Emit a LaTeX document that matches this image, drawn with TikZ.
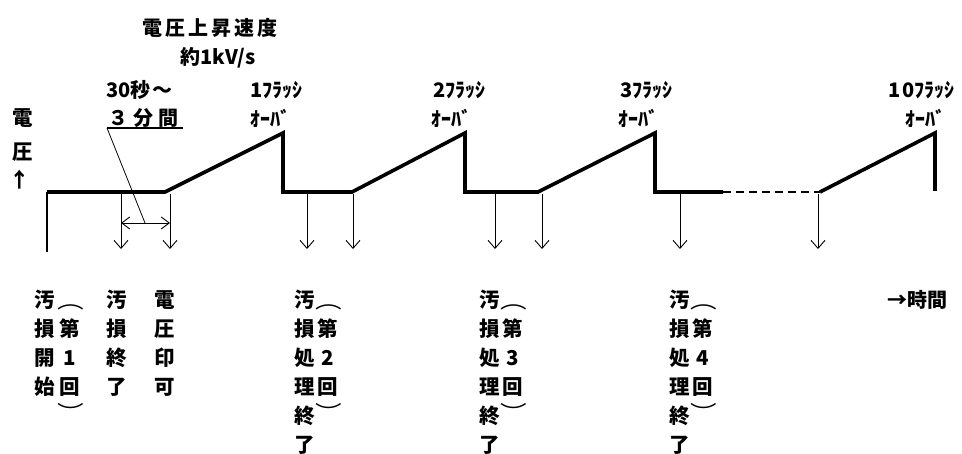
\documentclass[tikz,border=0pt]{standalone}
\usepackage{fontspec}
\usepackage{graphicx}
\setmainfont{Noto Sans CJK JP}
\usetikzlibrary{arrows.meta}
\newcommand\trk[1]{\def\trkamt{#1}\trkloop}
\def\trkloop#1{\ifx#1\relax\else#1\kern\trkamt\expandafter\trkloop\fi}
\newcommand\wideparen[1]{\scalebox{1.3}[1]{#1}}
\begin{document}
\begin{tikzpicture}[x=1pt,y=-1pt,
  wave/.style={line width=3.6pt, line join=miter, line cap=butt},
  dashline/.style={line width=2pt, dash pattern=on 8pt off 5pt},
  thinline/.style={line width=1.1pt},
  darr/.style={line width=0.9pt, -{Straight Barb[length=8pt,width=14pt]}},
  dimarr/.style={line width=0.9pt, {Straight Barb[length=8pt,width=12pt]}-{Straight Barb[length=8pt,width=12pt]}},
  lab/.style={inner sep=0pt, font=\fontsize{20.5}{20}\selectfont\bfseries},
  paren/.style={inner sep=0pt, font=\fontsize{20.5}{20}\selectfont},
  top/.style={inner sep=0pt, anchor=west, font=\fontsize{20}{20}\selectfont\bfseries},
  kana/.style={inner sep=0pt, anchor=west, font=\fontsize{20}{20}\selectfont\bfseries}]
\useasboundingbox[fill=white] (0,0) rectangle (962,454);
% waveform points
\coordinate (w0) at (47,192);
\coordinate (l0) at (47,252);
\coordinate (w1) at (165,192);
\coordinate (p1) at (283,133);
\coordinate (d1) at (283,192);
\coordinate (w2) at (352,192);
\coordinate (p2) at (465,133);
\coordinate (d2) at (465,192);
\coordinate (w3) at (538,192);
\coordinate (p3) at (655,133);
\coordinate (d3) at (655,192);
\coordinate (e3) at (723,192);
\coordinate (s10) at (820,192);
\coordinate (p10) at (935,133);
\coordinate (d10) at (935,191);
\draw[wave] (w0) -- (w1) -- (p1) -- (d1) -- (w2) -- (p2) -- (d2) -- (w3) -- (p3) -- (d3) -- (e3);
\draw[dashline] (e3) -- (s10);
\draw[wave] (s10) -- (p10) -- (d10);
\draw[thinline] (w0) -- (l0);
% down arrows
\foreach \xx [count=\k] in {121,170,307,353,495,542,680,818}{
  \coordinate (at\k) at (\xx,194);
  \coordinate (ab\k) at (\xx,249);
  \draw[darr] (at\k) -- (ab\k);
}
% dimension 30s-3min
\coordinate (m1) at (121,223);
\coordinate (m2) at (170,223);
\draw[dimarr] (m1) -- (m2);
\coordinate (u1) at (107,128);
\coordinate (u2) at (183,128);
\coordinate (lt) at (145,223);
\draw[thinline] (u1) -- (u2);
\draw[line width=0.8pt] (u1) -- (lt);
% top texts
\node[top] (rate) at (142,28) {\trk{3pt}電圧上昇速度\relax};
\node[top] (kv) at (180,58) {約1kV/s};
\node[top] (sec) at (106,90) {30秒\kern2pt～};
\node[top] (min) at (108,118) {\trk{5pt}３分間\relax};
\node[kana] (f1a) at (250,90) {1ﾌﾗｯｼ};
\node[kana] (f1b) at (250,118) {ｵｰﾊﾞ};
\node[kana] (f2a) at (433,90) {2ﾌﾗｯｼ};
\node[kana] (f2b) at (431,118) {ｵｰﾊﾞ};
\node[kana] (f3a) at (620,90) {3ﾌﾗｯｼ};
\node[kana] (f3b) at (618,118) {ｵｰﾊﾞ};
\node[kana] (f10a) at (888,90) {1\kern2pt 0ﾌﾗｯｼ};
\node[kana] (f10b) at (905,118) {ｵｰﾊﾞ};
% y axis label
\node[lab] (va) at (23,118) {電};
\node[lab] (vb) at (23,152) {圧};
\node[lab] (vc) at (20,180) {↑};
% time label
\node[top] (time) at (887,300) {→時間};
% bottom vertical labels
\foreach \c [count=\i from 0] in {汚,損,開,始}
  \node[lab] (la\i) at (45,300+29*\i) {\c};
\foreach \c [count=\i from 1] in {第,1,回}
  \node[lab] (lp\i) at (70,300+29*\i) {\c};
\node[paren] (lpo) at (71,307) {\wideparen{︵}};
\node[paren] (lpc) at (71,412) {\wideparen{︶}};
\foreach \c [count=\i from 0] in {汚,損,終,了}
  \node[lab] (lb\i) at (117,300+29*\i) {\c};
\foreach \c [count=\i from 0] in {電,圧,印,可}
  \node[lab] (lc\i) at (165,300+29*\i) {\c};
% second, third, fourth treatments
\foreach \xx/\nn [count=\j] in {305/2,490/3,680/4}{
  \foreach \c [count=\i from 0] in {汚,損,処,理,終,了}
    \node[lab] (ld\j-\i) at (\xx,300+29*\i) {\c};
  \node[paren] (le\j-o) at (\xx+24,307) {\wideparen{︵}};
  \node[lab] (le\j-1) at (\xx+23,329) {第};
  \node[lab] (le\j-2) at (\xx+23,358) {\nn};
  \node[lab] (le\j-3) at (\xx+23,387) {回};
  \node[paren] (le\j-c) at (\xx+24,412) {\wideparen{︶}};
}
\end{tikzpicture}
\end{document}
